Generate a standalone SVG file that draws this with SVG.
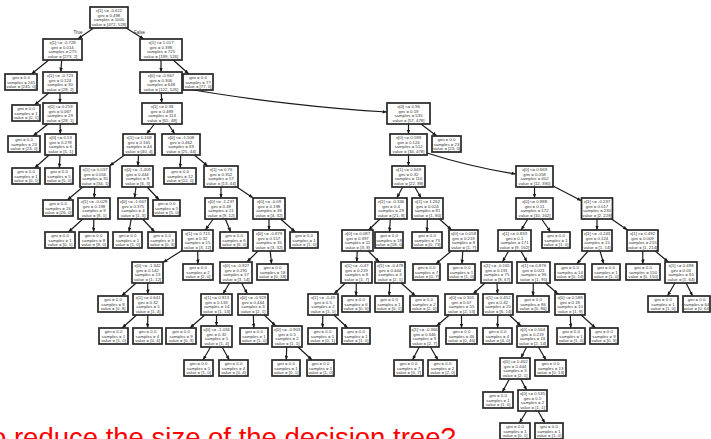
<svg xmlns="http://www.w3.org/2000/svg" width="711" height="439" viewBox="0 0 711 439">
<defs>
<marker id="ah" viewBox="0 0 10 8" refX="10" refY="4" markerWidth="4.5" markerHeight="3.6" markerUnits="userSpaceOnUse" orient="auto">
<path d="M0,0 L10,4 L0,8 z" fill="#1a1a1a"/>
</marker>
<style>
.n rect{fill:#fff;stroke:#262626;stroke-width:1.7}
.n text{font-family:"Liberation Sans",Arial,sans-serif;font-size:4.3px;fill:#333;text-anchor:middle}
.e{fill:none;stroke:#1a1a1a;stroke-width:1.2;marker-end:url(#ah)}
.lbl{font-family:"Liberation Sans",Arial,sans-serif;font-size:4.5px;fill:#333;text-anchor:middle}
.title{font-family:"Liberation Sans",Arial,sans-serif;font-size:27.5px;fill:#f00}
</style>
</defs>
<rect width="711" height="439" fill="#fff"/>

<!-- connectors -->
<g id="edges">
<path class="e" d="M93.7,28 L77.8,39"/>
<path class="e" d="M126.2,28 L143.8,39"/>
<path class="e" d="M48.8,60 L31.4,74"/>
<path class="e" d="M61.7,60 L60.8,72"/>
<path class="e" d="M161,60 L161,72"/>
<path class="e" d="M173.2,60 L188.8,74"/>
<path class="e" d="M48.8,93 L34.5,105"/>
<path class="e" d="M60,93 L60,103"/>
<path class="e" d="M161.3,93 L161.7,103"/>
<path class="e" d="M182,88 C250,100 330,109 387,112"/>
<path class="e" d="M48.1,124 L33,136"/>
<path class="e" d="M60.2,124 L60.3,134"/>
<path class="e" d="M154.4,124 L146.6,134"/>
<path class="e" d="M168.3,124 L174.7,134"/>
<path class="e" d="M408.5,124 L408.5,134"/>
<path class="e" d="M420.9,124 L436.8,136"/>
<path class="e" d="M49.1,155 L34.6,168"/>
<path class="e" d="M60,155 L59.4,168"/>
<path class="e" d="M124.5,155 L109.5,166"/>
<path class="e" d="M138.5,155 L138,166"/>
<path class="e" d="M180.7,155 L180.3,168"/>
<path class="e" d="M194.2,155 L207.8,166"/>
<path class="e" d="M408.5,155 L408.5,166"/>
<path class="e" d="M427,153 C455,162 490,170 516,174"/>
<path class="e" d="M82.8,187 L67.3,200"/>
<path class="e" d="M94.7,187 L94.3,198"/>
<path class="e" d="M136,187 L134.5,198"/>
<path class="e" d="M147.1,187 L159.3,200"/>
<path class="e" d="M221,187 L221,198"/>
<path class="e" d="M236.8,187 L253.2,198"/>
<path class="e" d="M402.7,187 L396.8,198"/>
<path class="e" d="M414.8,187 L421.2,198"/>
<path class="e" d="M534.5,187 L534.5,198"/>
<path class="e" d="M553,186 L581.5,200.8"/>
<path class="e" d="M82.8,219 L68.5,232"/>
<path class="e" d="M93.8,219 L93.6,232"/>
<path class="e" d="M131.2,219 L128.9,232"/>
<path class="e" d="M142.6,219 L154.8,232"/>
<path class="e" d="M213.2,219 L205.3,230"/>
<path class="e" d="M225.3,219 L230.8,232"/>
<path class="e" d="M269,219 L269,230"/>
<path class="e" d="M280.6,219 L295.3,232"/>
<path class="e" d="M380,219 L368.6,230"/>
<path class="e" d="M390.3,219 L389.5,232"/>
<path class="e" d="M427.3,219 L427.1,232"/>
<path class="e" d="M439.4,219 L451.6,230"/>
<path class="e" d="M527.9,219 L521.1,230"/>
<path class="e" d="M541.6,219 L550.6,232"/>
<path class="e" d="M597,219 L597,230"/>
<path class="e" d="M611.5,219 L627.5,230"/>
<path class="e" d="M182,250.4 L163,262.6"/>
<path class="e" d="M197.7,251 L197.9,264"/>
<path class="e" d="M258.1,251 L246.9,262"/>
<path class="e" d="M270.2,251 L271.6,264"/>
<path class="e" d="M357.2,251 L356.8,262"/>
<path class="e" d="M368.2,251 L379.3,262"/>
<path class="e" d="M451.3,251 L435.8,264"/>
<path class="e" d="M462.8,251 L462,264"/>
<path class="e" d="M508.6,251 L502.4,262"/>
<path class="e" d="M520.8,251 L527.2,262"/>
<path class="e" d="M588.1,251 L576.8,264"/>
<path class="e" d="M600,251 L603.8,264"/>
<path class="e" d="M642.7,251 L642.9,264"/>
<path class="e" d="M655.2,251 L668.3,262"/>
<path class="e" d="M136.1,283 L121.6,296"/>
<path class="e" d="M147.7,283 L147.8,294"/>
<path class="e" d="M229.6,283 L222.9,294"/>
<path class="e" d="M241.6,283 L247.4,294"/>
<path class="e" d="M345.4,283 L334,294"/>
<path class="e" d="M356.3,283 L356.1,296"/>
<path class="e" d="M389.7,283 L389.2,296"/>
<path class="e" d="M401.2,283 L415.5,296"/>
<path class="e" d="M485,283 L473,294"/>
<path class="e" d="M497,283 L497.5,294"/>
<path class="e" d="M533.3,283 L533.1,296"/>
<path class="e" d="M545.5,283 L558,294"/>
<path class="e" d="M675,283 L667.5,296"/>
<path class="e" d="M686.1,283 L692.6,296"/>
<path class="e" d="M136.6,315 L122.1,328"/>
<path class="e" d="M147.8,315 L147.6,328"/>
<path class="e" d="M204.8,315 L189.9,328"/>
<path class="e" d="M216.5,315 L216.5,326"/>
<path class="e" d="M253.3,315 L253.8,328"/>
<path class="e" d="M264.2,315 L275.8,326"/>
<path class="e" d="M322.8,315 L322.6,328"/>
<path class="e" d="M333.9,315 L347.8,328"/>
<path class="e" d="M449.3,315 L436.7,326"/>
<path class="e" d="M461.5,315 L461.5,328"/>
<path class="e" d="M497.8,315 L497.6,328"/>
<path class="e" d="M509.4,315 L521.1,326"/>
<path class="e" d="M570.3,315 L570.8,328"/>
<path class="e" d="M581.2,315 L595.5,328"/>
<path class="e" d="M210.6,347 L203,360"/>
<path class="e" d="M222.1,347 L229.3,360"/>
<path class="e" d="M286.7,347 L286.3,360"/>
<path class="e" d="M298,347 L312.1,360"/>
<path class="e" d="M419.2,347 L412.5,360"/>
<path class="e" d="M430.4,347 L438,360"/>
<path class="e" d="M526.7,347 L520.8,358"/>
<path class="e" d="M538.4,347 L546,360"/>
<path class="e" d="M509.4,379 L502.3,392"/>
<path class="e" d="M520.8,379 L526.7,390"/>
<path class="e" d="M526.7,411 L519.4,423"/>
<path class="e" d="M538,411 L544.9,423"/>
<text class="lbl" x="78" y="33.5">True</text>
<text class="lbl" x="139.5" y="33.5">False</text>
</g>

<!-- row 0 -->
<g id="n0" class="n"><rect x="90" y="7" width="38" height="21"/><text y="12.4"><tspan x="109">x[1] &lt;= -0.612</tspan><tspan x="109" dy="4.5">gini = 0.498</tspan><tspan x="109" dy="4.5">samples = 1000</tspan><tspan x="109" dy="4.5">value = [472, 528]</tspan></text></g>
<!-- row 1 -->
<g id="n1" class="n"><rect x="43" y="39" width="39" height="21"/><text y="44.4"><tspan x="62.5">x[1] &lt;= -0.728</tspan><tspan x="62.5" dy="4.5">gini = 0.014</tspan><tspan x="62.5" dy="4.5">samples = 275</tspan><tspan x="62.5" dy="4.5">value = [273, 2]</tspan></text></g>
<g id="n2" class="n"><rect x="140" y="39" width="42" height="21"/><text y="44.4"><tspan x="161">x[1] &lt;= 1.017</tspan><tspan x="161" dy="4.5">gini = 0.398</tspan><tspan x="161" dy="4.5">samples = 725</tspan><tspan x="161" dy="4.5">value = [199, 526]</tspan></text></g>
<!-- row 2 -->
<g id="n3" class="n"><rect x="5" y="74" width="32" height="16"/><text y="79.3"><tspan x="21">gini = 0.0</tspan><tspan x="21" dy="4.5">samples = 245</tspan><tspan x="21" dy="4.5">value = [245, 0]</tspan></text></g>
<g id="n4" class="n"><rect x="43" y="72" width="34" height="21"/><text y="77.4"><tspan x="60">x[1] &lt;= -0.723</tspan><tspan x="60" dy="4.5">gini = 0.124</tspan><tspan x="60" dy="4.5">samples = 30</tspan><tspan x="60" dy="4.5">value = [28, 2]</tspan></text></g>
<g id="n5" class="n"><rect x="140" y="72" width="42" height="21"/><text y="77.4"><tspan x="161">x[0] &lt;= -0.667</tspan><tspan x="161" dy="4.5">gini = 0.306</tspan><tspan x="161" dy="4.5">samples = 648</tspan><tspan x="161" dy="4.5">value = [122, 526]</tspan></text></g>
<g id="n6" class="n"><rect x="183" y="74" width="30" height="16"/><text y="79.3"><tspan x="198">gini = 0.0</tspan><tspan x="198" dy="4.5">samples = 77</tspan><tspan x="198" dy="4.5">value = [77, 0]</tspan></text></g>
<!-- row 3 -->
<g id="n7" class="n"><rect x="12" y="105" width="28" height="16"/><text y="110.3"><tspan x="26">gini = 0.0</tspan><tspan x="26" dy="4.5">samples = 1</tspan><tspan x="26" dy="4.5">value = [0, 1]</tspan></text></g>
<g id="n8" class="n"><rect x="43" y="103" width="34" height="21"/><text y="108.4"><tspan x="60">x[0] &lt;= 0.259</tspan><tspan x="60" dy="4.5">gini = 0.067</tspan><tspan x="60" dy="4.5">samples = 29</tspan><tspan x="60" dy="4.5">value = [28, 1]</tspan></text></g>
<g id="n9" class="n"><rect x="142" y="103" width="40" height="21"/><text y="108.4"><tspan x="162">x[1] &lt;= 0.38</tspan><tspan x="162" dy="4.5">gini = 0.489</tspan><tspan x="162" dy="4.5">samples = 113</tspan><tspan x="162" dy="4.5">value = [65, 48]</tspan></text></g>
<g id="n10" class="n"><rect x="387" y="103" width="43" height="21"/><text y="108.4"><tspan x="408.5">x[0] &lt;= 0.96</tspan><tspan x="408.5" dy="4.5">gini = 0.19</tspan><tspan x="408.5" dy="4.5">samples = 535</tspan><tspan x="408.5" dy="4.5">value = [57, 478]</tspan></text></g>
<!-- row 4 -->
<g id="n11" class="n"><rect x="8" y="136" width="32" height="16"/><text y="141.3"><tspan x="24">gini = 0.0</tspan><tspan x="24" dy="4.5">samples = 23</tspan><tspan x="24" dy="4.5">value = [23, 0]</tspan></text></g>
<g id="n12" class="n"><rect x="45" y="134" width="31" height="21"/><text y="139.4"><tspan x="60.5">x[0] &lt;= 0.53</tspan><tspan x="60.5" dy="4.5">gini = 0.278</tspan><tspan x="60.5" dy="4.5">samples = 6</tspan><tspan x="60.5" dy="4.5">value = [5, 1]</tspan></text></g>
<g id="n13" class="n"><rect x="123" y="134" width="32" height="21"/><text y="139.4"><tspan x="139">x[1] &lt;= 0.168</tspan><tspan x="139" dy="4.5">gini = 0.165</tspan><tspan x="139" dy="4.5">samples = 44</tspan><tspan x="139" dy="4.5">value = [40, 4]</tspan></text></g>
<g id="n14" class="n"><rect x="162" y="134" width="38" height="21"/><text y="139.4"><tspan x="181">x[0] &lt;= -1.508</tspan><tspan x="181" dy="4.5">gini = 0.462</tspan><tspan x="181" dy="4.5">samples = 69</tspan><tspan x="181" dy="4.5">value = [25, 44]</tspan></text></g>
<g id="n15" class="n"><rect x="390" y="134" width="37" height="21"/><text y="139.4"><tspan x="408.5">x[0] &lt;= 0.189</tspan><tspan x="408.5" dy="4.5">gini = 0.124</tspan><tspan x="408.5" dy="4.5">samples = 512</tspan><tspan x="408.5" dy="4.5">value = [34, 478]</tspan></text></g>
<g id="n16" class="n"><rect x="432" y="136" width="29" height="16"/><text y="141.3"><tspan x="446.5">gini = 0.0</tspan><tspan x="446.5" dy="4.5">samples = 23</tspan><tspan x="446.5" dy="4.5">value = [23, 0]</tspan></text></g>
<!-- row 5 -->
<g id="n17" class="n"><rect x="12" y="168" width="28" height="16"/><text y="173.3"><tspan x="26">gini = 0.0</tspan><tspan x="26" dy="4.5">samples = 1</tspan><tspan x="26" dy="4.5">value = [0, 1]</tspan></text></g>
<g id="n18" class="n"><rect x="45" y="168" width="28" height="16"/><text y="173.3"><tspan x="59">gini = 0.0</tspan><tspan x="59" dy="4.5">samples = 5</tspan><tspan x="59" dy="4.5">value = [5, 0]</tspan></text></g>
<g id="n19" class="n"><rect x="80" y="166" width="30" height="21"/><text y="171.4"><tspan x="95">x[1] &lt;= 0.037</tspan><tspan x="95" dy="4.5">gini = 0.056</tspan><tspan x="95" dy="4.5">samples = 35</tspan><tspan x="95" dy="4.5">value = [34, 1]</tspan></text></g>
<g id="n20" class="n"><rect x="122" y="166" width="31" height="21"/><text y="171.4"><tspan x="137.5">x[0] &lt;= -1.409</tspan><tspan x="137.5" dy="4.5">gini = 0.444</tspan><tspan x="137.5" dy="4.5">samples = 9</tspan><tspan x="137.5" dy="4.5">value = [6, 3]</tspan></text></g>
<g id="n21" class="n"><rect x="164" y="168" width="32" height="16"/><text y="173.3"><tspan x="180">gini = 0.0</tspan><tspan x="180" dy="4.5">samples = 12</tspan><tspan x="180" dy="4.5">value = [12, 0]</tspan></text></g>
<g id="n22" class="n"><rect x="204" y="166" width="34" height="21"/><text y="171.4"><tspan x="221">x[1] &lt;= 0.76</tspan><tspan x="221" dy="4.5">gini = 0.352</tspan><tspan x="221" dy="4.5">samples = 57</tspan><tspan x="221" dy="4.5">value = [13, 44]</tspan></text></g>
<g id="n23" class="n"><rect x="392" y="166" width="33" height="21"/><text y="171.4"><tspan x="408.5">x[1] &lt;= 0.669</tspan><tspan x="408.5" dy="4.5">gini = 0.32</tspan><tspan x="408.5" dy="4.5">samples = 110</tspan><tspan x="408.5" dy="4.5">value = [22, 88]</tspan></text></g>
<g id="n24" class="n"><rect x="516" y="166" width="37" height="21"/><text y="171.4"><tspan x="534.5">x[0] &lt;= 0.669</tspan><tspan x="534.5" dy="4.5">gini = 0.058</tspan><tspan x="534.5" dy="4.5">samples = 402</tspan><tspan x="534.5" dy="4.5">value = [12, 390]</tspan></text></g>
<!-- row 6 -->
<g id="n25" class="n"><rect x="43" y="200" width="30" height="16"/><text y="205.3"><tspan x="58">gini = 0.0</tspan><tspan x="58" dy="4.5">samples = 26</tspan><tspan x="58" dy="4.5">value = [26, 0]</tspan></text></g>
<g id="n26" class="n"><rect x="78" y="198" width="32" height="21"/><text y="203.4"><tspan x="94">x[1] &lt;= -0.029</tspan><tspan x="94" dy="4.5">gini = 0.198</tspan><tspan x="94" dy="4.5">samples = 9</tspan><tspan x="94" dy="4.5">value = [8, 1]</tspan></text></g>
<g id="n27" class="n"><rect x="118" y="198" width="30" height="21"/><text y="203.4"><tspan x="133">x[0] &lt;= -1.667</tspan><tspan x="133" dy="4.5">gini = 0.375</tspan><tspan x="133" dy="4.5">samples = 4</tspan><tspan x="133" dy="4.5">value = [1, 3]</tspan></text></g>
<g id="n28" class="n"><rect x="153" y="200" width="27" height="16"/><text y="205.3"><tspan x="166.5">gini = 0.0</tspan><tspan x="166.5" dy="4.5">samples = 5</tspan><tspan x="166.5" dy="4.5">value = [5, 0]</tspan></text></g>
<g id="n29" class="n"><rect x="205" y="198" width="32" height="21"/><text y="203.4"><tspan x="221">x[0] &lt;= -1.237</tspan><tspan x="221" dy="4.5">gini = 0.49</tspan><tspan x="221" dy="4.5">samples = 21</tspan><tspan x="221" dy="4.5">value = [9, 12]</tspan></text></g>
<g id="n30" class="n"><rect x="253" y="198" width="32" height="21"/><text y="203.4"><tspan x="269">x[0] &lt;= -0.09</tspan><tspan x="269" dy="4.5">gini = 0.198</tspan><tspan x="269" dy="4.5">samples = 36</tspan><tspan x="269" dy="4.5">value = [4, 32]</tspan></text></g>
<g id="n31" class="n"><rect x="375" y="198" width="32" height="21"/><text y="203.4"><tspan x="391">x[1] &lt;= -0.336</tspan><tspan x="391" dy="4.5">gini = 0.4</tspan><tspan x="391" dy="4.5">samples = 29</tspan><tspan x="391" dy="4.5">value = [21, 8]</tspan></text></g>
<g id="n32" class="n"><rect x="412" y="198" width="31" height="21"/><text y="203.4"><tspan x="427.5">x[1] &lt;= 1.262</tspan><tspan x="427.5" dy="4.5">gini = 0.024</tspan><tspan x="427.5" dy="4.5">samples = 81</tspan><tspan x="427.5" dy="4.5">value = [1, 80]</tspan></text></g>
<g id="n33" class="n"><rect x="516" y="198" width="37" height="21"/><text y="203.4"><tspan x="534.5">x[0] &lt;= 0.888</tspan><tspan x="534.5" dy="4.5">gini = 0.11</tspan><tspan x="534.5" dy="4.5">samples = 172</tspan><tspan x="534.5" dy="4.5">value = [10, 162]</tspan></text></g>
<g id="n34" class="n"><rect x="581.5" y="198" width="31" height="21"/><text y="203.4"><tspan x="597">x[1] &lt;= -0.237</tspan><tspan x="597" dy="4.5">gini = 0.017</tspan><tspan x="597" dy="4.5">samples = 230</tspan><tspan x="597" dy="4.5">value = [2, 228]</tspan></text></g>
<!-- row 7 -->
<g id="n35" class="n"><rect x="45" y="232" width="30" height="16"/><text y="237.3"><tspan x="60">gini = 0.0</tspan><tspan x="60" dy="4.5">samples = 1</tspan><tspan x="60" dy="4.5">value = [0, 1]</tspan></text></g>
<g id="n36" class="n"><rect x="79" y="232" width="29" height="16"/><text y="237.3"><tspan x="93.5">gini = 0.0</tspan><tspan x="93.5" dy="4.5">samples = 8</tspan><tspan x="93.5" dy="4.5">value = [8, 0]</tspan></text></g>
<g id="n37" class="n"><rect x="113" y="232" width="29" height="16"/><text y="237.3"><tspan x="127.5">gini = 0.0</tspan><tspan x="127.5" dy="4.5">samples = 1</tspan><tspan x="127.5" dy="4.5">value = [1, 0]</tspan></text></g>
<g id="n38" class="n"><rect x="148" y="232" width="28" height="16"/><text y="237.3"><tspan x="162">gini = 0.0</tspan><tspan x="162" dy="4.5">samples = 3</tspan><tspan x="162" dy="4.5">value = [0, 3]</tspan></text></g>
<g id="n39" class="n"><rect x="182" y="230" width="31" height="21"/><text y="235.4"><tspan x="197.5">x[1] &lt;= 0.715</tspan><tspan x="197.5" dy="4.5">gini = 0.32</tspan><tspan x="197.5" dy="4.5">samples = 15</tspan><tspan x="197.5" dy="4.5">value = [3, 12]</tspan></text></g>
<g id="n40" class="n"><rect x="220" y="232" width="28" height="16"/><text y="237.3"><tspan x="234">gini = 0.0</tspan><tspan x="234" dy="4.5">samples = 6</tspan><tspan x="234" dy="4.5">value = [6, 0]</tspan></text></g>
<g id="n41" class="n"><rect x="253" y="230" width="32" height="21"/><text y="235.4"><tspan x="269">x[0] &lt;= -0.879</tspan><tspan x="269" dy="4.5">gini = 0.157</tspan><tspan x="269" dy="4.5">samples = 35</tspan><tspan x="269" dy="4.5">value = [3, 32]</tspan></text></g>
<g id="n42" class="n"><rect x="290" y="232" width="28" height="16"/><text y="237.3"><tspan x="304">gini = 0.0</tspan><tspan x="304" dy="4.5">samples = 1</tspan><tspan x="304" dy="4.5">value = [1, 0]</tspan></text></g>
<g id="n43" class="n"><rect x="342" y="230" width="31" height="21"/><text y="235.4"><tspan x="357.5">x[0] &lt;= 0.087</tspan><tspan x="357.5" dy="4.5">gini = 0.397</tspan><tspan x="357.5" dy="4.5">samples = 11</tspan><tspan x="357.5" dy="4.5">value = [3, 8]</tspan></text></g>
<g id="n44" class="n"><rect x="375" y="232" width="28" height="16"/><text y="237.3"><tspan x="389">gini = 0.0</tspan><tspan x="389" dy="4.5">samples = 18</tspan><tspan x="389" dy="4.5">value = [18, 0]</tspan></text></g>
<g id="n45" class="n"><rect x="412" y="232" width="30" height="16"/><text y="237.3"><tspan x="427">gini = 0.0</tspan><tspan x="427" dy="4.5">samples = 73</tspan><tspan x="427" dy="4.5">value = [0, 73]</tspan></text></g>
<g id="n46" class="n"><rect x="449" y="230" width="29" height="21"/><text y="235.4"><tspan x="463.5">x[0] &lt;= 0.058</tspan><tspan x="463.5" dy="4.5">gini = 0.219</tspan><tspan x="463.5" dy="4.5">samples = 8</tspan><tspan x="463.5" dy="4.5">value = [1, 7]</tspan></text></g>
<g id="n47" class="n"><rect x="498" y="230" width="33" height="21"/><text y="235.4"><tspan x="514.5">x[1] &lt;= 0.833</tspan><tspan x="514.5" dy="4.5">gini = 0.1</tspan><tspan x="514.5" dy="4.5">samples = 171</tspan><tspan x="514.5" dy="4.5">value = [9, 162]</tspan></text></g>
<g id="n48" class="n"><rect x="542" y="232" width="28" height="16"/><text y="237.3"><tspan x="556">gini = 0.0</tspan><tspan x="556" dy="4.5">samples = 1</tspan><tspan x="556" dy="4.5">value = [1, 0]</tspan></text></g>
<g id="n49" class="n"><rect x="582" y="230" width="30" height="21"/><text y="235.4"><tspan x="597">x[1] &lt;= -0.243</tspan><tspan x="597" dy="4.5">gini = 0.124</tspan><tspan x="597" dy="4.5">samples = 15</tspan><tspan x="597" dy="4.5">value = [1, 14]</tspan></text></g>
<g id="n50" class="n"><rect x="627" y="230" width="31" height="21"/><text y="235.4"><tspan x="642.5">x[1] &lt;= 0.492</tspan><tspan x="642.5" dy="4.5">gini = 0.009</tspan><tspan x="642.5" dy="4.5">samples = 215</tspan><tspan x="642.5" dy="4.5">value = [1, 214]</tspan></text></g>
<!-- row 8 -->
<g id="n51" class="n"><rect x="132" y="262" width="31" height="21"/><text y="267.4"><tspan x="147.5">x[0] &lt;= -1.342</tspan><tspan x="147.5" dy="4.5">gini = 0.142</tspan><tspan x="147.5" dy="4.5">samples = 13</tspan><tspan x="147.5" dy="4.5">value = [1, 12]</tspan></text></g>
<g id="n52" class="n"><rect x="183" y="264" width="30" height="16"/><text y="269.3"><tspan x="198">gini = 0.0</tspan><tspan x="198" dy="4.5">samples = 2</tspan><tspan x="198" dy="4.5">value = [2, 0]</tspan></text></g>
<g id="n53" class="n"><rect x="220" y="262" width="32" height="21"/><text y="267.4"><tspan x="236">x[0] &lt;= -0.927</tspan><tspan x="236" dy="4.5">gini = 0.291</tspan><tspan x="236" dy="4.5">samples = 17</tspan><tspan x="236" dy="4.5">value = [3, 14]</tspan></text></g>
<g id="n54" class="n"><rect x="257" y="264" width="31" height="16"/><text y="269.3"><tspan x="272.5">gini = 0.0</tspan><tspan x="272.5" dy="4.5">samples = 18</tspan><tspan x="272.5" dy="4.5">value = [0, 18]</tspan></text></g>
<g id="n55" class="n"><rect x="341" y="262" width="31" height="21"/><text y="267.4"><tspan x="356.5">x[1] &lt;= -0.47</tspan><tspan x="356.5" dy="4.5">gini = 0.219</tspan><tspan x="356.5" dy="4.5">samples = 8</tspan><tspan x="356.5" dy="4.5">value = [1, 7]</tspan></text></g>
<g id="n56" class="n"><rect x="375" y="262" width="30" height="21"/><text y="267.4"><tspan x="390">x[1] &lt;= -0.478</tspan><tspan x="390" dy="4.5">gini = 0.444</tspan><tspan x="390" dy="4.5">samples = 3</tspan><tspan x="390" dy="4.5">value = [2, 1]</tspan></text></g>
<g id="n57" class="n"><rect x="413" y="264" width="27" height="16"/><text y="269.3"><tspan x="426.5">gini = 0.0</tspan><tspan x="426.5" dy="4.5">samples = 7</tspan><tspan x="426.5" dy="4.5">value = [0, 7]</tspan></text></g>
<g id="n58" class="n"><rect x="448" y="264" width="27" height="16"/><text y="269.3"><tspan x="461.5">gini = 0.0</tspan><tspan x="461.5" dy="4.5">samples = 1</tspan><tspan x="461.5" dy="4.5">value = [1, 0]</tspan></text></g>
<g id="n59" class="n"><rect x="481" y="262" width="31" height="21"/><text y="267.4"><tspan x="496.5">x[1] &lt;= -0.165</tspan><tspan x="496.5" dy="4.5">gini = 0.191</tspan><tspan x="496.5" dy="4.5">samples = 75</tspan><tspan x="496.5" dy="4.5">value = [8, 67]</tspan></text></g>
<g id="n60" class="n"><rect x="517" y="262" width="33" height="21"/><text y="267.4"><tspan x="533.5">x[1] &lt;= 0.876</tspan><tspan x="533.5" dy="4.5">gini = 0.021</tspan><tspan x="533.5" dy="4.5">samples = 96</tspan><tspan x="533.5" dy="4.5">value = [1, 95]</tspan></text></g>
<g id="n61" class="n"><rect x="555" y="264" width="30" height="16"/><text y="269.3"><tspan x="570">gini = 0.0</tspan><tspan x="570" dy="4.5">samples = 14</tspan><tspan x="570" dy="4.5">value = [0, 14]</tspan></text></g>
<g id="n62" class="n"><rect x="592" y="264" width="28" height="16"/><text y="269.3"><tspan x="606">gini = 0.0</tspan><tspan x="606" dy="4.5">samples = 1</tspan><tspan x="606" dy="4.5">value = [1, 0]</tspan></text></g>
<g id="n63" class="n"><rect x="626" y="264" width="34" height="16"/><text y="269.3"><tspan x="643">gini = 0.0</tspan><tspan x="643" dy="4.5">samples = 150</tspan><tspan x="643" dy="4.5">value = [0, 150]</tspan></text></g>
<g id="n64" class="n"><rect x="665" y="262" width="32" height="21"/><text y="267.4"><tspan x="681">x[1] &lt;= 0.498</tspan><tspan x="681" dy="4.5">gini = 0.03</tspan><tspan x="681" dy="4.5">samples = 65</tspan><tspan x="681" dy="4.5">value = [1, 64]</tspan></text></g>
<!-- row 9 -->
<g id="n65" class="n"><rect x="98" y="296" width="30" height="16"/><text y="301.3"><tspan x="113">gini = 0.0</tspan><tspan x="113" dy="4.5">samples = 8</tspan><tspan x="113" dy="4.5">value = [0, 8]</tspan></text></g>
<g id="n66" class="n"><rect x="133" y="294" width="30" height="21"/><text y="299.4"><tspan x="148">x[1] &lt;= 0.641</tspan><tspan x="148" dy="4.5">gini = 0.32</tspan><tspan x="148" dy="4.5">samples = 5</tspan><tspan x="148" dy="4.5">value = [1, 4]</tspan></text></g>
<g id="n67" class="n"><rect x="201" y="294" width="31" height="21"/><text y="299.4"><tspan x="216.5">x[1] &lt;= 0.913</tspan><tspan x="216.5" dy="4.5">gini = 0.133</tspan><tspan x="216.5" dy="4.5">samples = 14</tspan><tspan x="216.5" dy="4.5">value = [1, 13]</tspan></text></g>
<g id="n68" class="n"><rect x="238" y="294" width="30" height="21"/><text y="299.4"><tspan x="253">x[0] &lt;= -0.929</tspan><tspan x="253" dy="4.5">gini = 0.444</tspan><tspan x="253" dy="4.5">samples = 3</tspan><tspan x="253" dy="4.5">value = [2, 1]</tspan></text></g>
<g id="n69" class="n"><rect x="308" y="294" width="30" height="21"/><text y="299.4"><tspan x="323">x[1] &lt;= -0.49</tspan><tspan x="323" dy="4.5">gini = 0.5</tspan><tspan x="323" dy="4.5">samples = 2</tspan><tspan x="323" dy="4.5">value = [1, 1]</tspan></text></g>
<g id="n70" class="n"><rect x="342" y="296" width="28" height="16"/><text y="301.3"><tspan x="356">gini = 0.0</tspan><tspan x="356" dy="4.5">samples = 6</tspan><tspan x="356" dy="4.5">value = [0, 6]</tspan></text></g>
<g id="n71" class="n"><rect x="375" y="296" width="28" height="16"/><text y="301.3"><tspan x="389">gini = 0.0</tspan><tspan x="389" dy="4.5">samples = 1</tspan><tspan x="389" dy="4.5">value = [0, 1]</tspan></text></g>
<g id="n72" class="n"><rect x="410" y="296" width="28" height="16"/><text y="301.3"><tspan x="424">gini = 0.0</tspan><tspan x="424" dy="4.5">samples = 2</tspan><tspan x="424" dy="4.5">value = [2, 0]</tspan></text></g>
<g id="n73" class="n"><rect x="445" y="294" width="33" height="21"/><text y="299.4"><tspan x="461.5">x[0] &lt;= 0.305</tspan><tspan x="461.5" dy="4.5">gini = 0.07</tspan><tspan x="461.5" dy="4.5">samples = 55</tspan><tspan x="461.5" dy="4.5">value = [2, 53]</tspan></text></g>
<g id="n74" class="n"><rect x="483" y="294" width="30" height="21"/><text y="299.4"><tspan x="498">x[1] &lt;= 0.452</tspan><tspan x="498" dy="4.5">gini = 0.42</tspan><tspan x="498" dy="4.5">samples = 20</tspan><tspan x="498" dy="4.5">value = [6, 14]</tspan></text></g>
<g id="n75" class="n"><rect x="517" y="296" width="32" height="16"/><text y="301.3"><tspan x="533">gini = 0.0</tspan><tspan x="533" dy="4.5">samples = 86</tspan><tspan x="533" dy="4.5">value = [0, 86]</tspan></text></g>
<g id="n76" class="n"><rect x="555" y="294" width="30" height="21"/><text y="299.4"><tspan x="570">x[0] &lt;= 0.588</tspan><tspan x="570" dy="4.5">gini = 0.18</tspan><tspan x="570" dy="4.5">samples = 10</tspan><tspan x="570" dy="4.5">value = [1, 9]</tspan></text></g>
<g id="n77" class="n"><rect x="648" y="296" width="30" height="16"/><text y="301.3"><tspan x="663">gini = 0.0</tspan><tspan x="663" dy="4.5">samples = 1</tspan><tspan x="663" dy="4.5">value = [1, 0]</tspan></text></g>
<g id="n78" class="n"><rect x="683" y="296" width="27" height="16"/><text y="301.3"><tspan x="696.5">gini = 0.0</tspan><tspan x="696.5" dy="4.5">samples = 64</tspan><tspan x="696.5" dy="4.5">value = [0, 64]</tspan></text></g>
<!-- row 10 -->
<g id="n79" class="n"><rect x="99" y="328" width="29" height="16"/><text y="333.3"><tspan x="113.5">gini = 0.0</tspan><tspan x="113.5" dy="4.5">samples = 1</tspan><tspan x="113.5" dy="4.5">value = [1, 0]</tspan></text></g>
<g id="n80" class="n"><rect x="133" y="328" width="29" height="16"/><text y="333.3"><tspan x="147.5">gini = 0.0</tspan><tspan x="147.5" dy="4.5">samples = 4</tspan><tspan x="147.5" dy="4.5">value = [0, 4]</tspan></text></g>
<g id="n81" class="n"><rect x="166" y="328" width="30" height="16"/><text y="333.3"><tspan x="181">gini = 0.0</tspan><tspan x="181" dy="4.5">samples = 9</tspan><tspan x="181" dy="4.5">value = [0, 9]</tspan></text></g>
<g id="n82" class="n"><rect x="201" y="326" width="31" height="21"/><text y="331.4"><tspan x="216.5">x[0] &lt;= -1.034</tspan><tspan x="216.5" dy="4.5">gini = 0.32</tspan><tspan x="216.5" dy="4.5">samples = 5</tspan><tspan x="216.5" dy="4.5">value = [1, 4]</tspan></text></g>
<g id="n83" class="n"><rect x="240" y="328" width="28" height="16"/><text y="333.3"><tspan x="254">gini = 0.0</tspan><tspan x="254" dy="4.5">samples = 1</tspan><tspan x="254" dy="4.5">value = [1, 0]</tspan></text></g>
<g id="n84" class="n"><rect x="272" y="326" width="30" height="21"/><text y="331.4"><tspan x="287">x[0] &lt;= -0.903</tspan><tspan x="287" dy="4.5">gini = 0.5</tspan><tspan x="287" dy="4.5">samples = 2</tspan><tspan x="287" dy="4.5">value = [1, 1]</tspan></text></g>
<g id="n85" class="n"><rect x="308" y="328" width="29" height="16"/><text y="333.3"><tspan x="322.5">gini = 0.0</tspan><tspan x="322.5" dy="4.5">samples = 1</tspan><tspan x="322.5" dy="4.5">value = [0, 1]</tspan></text></g>
<g id="n86" class="n"><rect x="342" y="328" width="28" height="16"/><text y="333.3"><tspan x="356">gini = 0.0</tspan><tspan x="356" dy="4.5">samples = 1</tspan><tspan x="356" dy="4.5">value = [1, 0]</tspan></text></g>
<g id="n87" class="n"><rect x="410" y="326" width="29" height="21"/><text y="331.4"><tspan x="424.5">x[1] &lt;= -0.366</tspan><tspan x="424.5" dy="4.5">gini = 0.346</tspan><tspan x="424.5" dy="4.5">samples = 9</tspan><tspan x="424.5" dy="4.5">value = [2, 7]</tspan></text></g>
<g id="n88" class="n"><rect x="446" y="328" width="31" height="16"/><text y="333.3"><tspan x="461.5">gini = 0.0</tspan><tspan x="461.5" dy="4.5">samples = 46</tspan><tspan x="461.5" dy="4.5">value = [0, 46]</tspan></text></g>
<g id="n89" class="n"><rect x="483" y="328" width="29" height="16"/><text y="333.3"><tspan x="497.5">gini = 0.0</tspan><tspan x="497.5" dy="4.5">samples = 4</tspan><tspan x="497.5" dy="4.5">value = [4, 0]</tspan></text></g>
<g id="n90" class="n"><rect x="517" y="326" width="31" height="21"/><text y="331.4"><tspan x="532.5">x[0] &lt;= 0.564</tspan><tspan x="532.5" dy="4.5">gini = 0.219</tspan><tspan x="532.5" dy="4.5">samples = 16</tspan><tspan x="532.5" dy="4.5">value = [2, 14]</tspan></text></g>
<g id="n91" class="n"><rect x="557" y="328" width="28" height="16"/><text y="333.3"><tspan x="571">gini = 0.0</tspan><tspan x="571" dy="4.5">samples = 1</tspan><tspan x="571" dy="4.5">value = [1, 0]</tspan></text></g>
<g id="n92" class="n"><rect x="590" y="328" width="28" height="16"/><text y="333.3"><tspan x="604">gini = 0.0</tspan><tspan x="604" dy="4.5">samples = 9</tspan><tspan x="604" dy="4.5">value = [0, 9]</tspan></text></g>
<!-- row 11 -->
<g id="n93" class="n"><rect x="184" y="360" width="29" height="16"/><text y="365.3"><tspan x="198.5">gini = 0.0</tspan><tspan x="198.5" dy="4.5">samples = 1</tspan><tspan x="198.5" dy="4.5">value = [1, 0]</tspan></text></g>
<g id="n94" class="n"><rect x="219" y="360" width="29" height="16"/><text y="365.3"><tspan x="233.5">gini = 0.0</tspan><tspan x="233.5" dy="4.5">samples = 4</tspan><tspan x="233.5" dy="4.5">value = [0, 4]</tspan></text></g>
<g id="n95" class="n"><rect x="272" y="360" width="28" height="16"/><text y="365.3"><tspan x="286">gini = 0.0</tspan><tspan x="286" dy="4.5">samples = 1</tspan><tspan x="286" dy="4.5">value = [0, 1]</tspan></text></g>
<g id="n96" class="n"><rect x="307" y="360" width="27" height="16"/><text y="365.3"><tspan x="320.5">gini = 0.0</tspan><tspan x="320.5" dy="4.5">samples = 1</tspan><tspan x="320.5" dy="4.5">value = [1, 0]</tspan></text></g>
<g id="n97" class="n"><rect x="394" y="360" width="29" height="16"/><text y="365.3"><tspan x="408.5">gini = 0.0</tspan><tspan x="408.5" dy="4.5">samples = 7</tspan><tspan x="408.5" dy="4.5">value = [0, 7]</tspan></text></g>
<g id="n98" class="n"><rect x="428" y="360" width="29" height="16"/><text y="365.3"><tspan x="442.5">gini = 0.0</tspan><tspan x="442.5" dy="4.5">samples = 2</tspan><tspan x="442.5" dy="4.5">value = [2, 0]</tspan></text></g>
<g id="n99" class="n"><rect x="500" y="358" width="30" height="21"/><text y="363.4"><tspan x="515">x[0] &lt;= 0.462</tspan><tspan x="515" dy="4.5">gini = 0.444</tspan><tspan x="515" dy="4.5">samples = 3</tspan><tspan x="515" dy="4.5">value = [2, 1]</tspan></text></g>
<g id="n100" class="n"><rect x="535" y="360" width="31" height="16"/><text y="365.3"><tspan x="550.5">gini = 0.0</tspan><tspan x="550.5" dy="4.5">samples = 13</tspan><tspan x="550.5" dy="4.5">value = [0, 13]</tspan></text></g>
<!-- row 12 -->
<g id="n101" class="n"><rect x="483" y="392" width="30" height="16"/><text y="397.3"><tspan x="498">gini = 0.0</tspan><tspan x="498" dy="4.5">samples = 1</tspan><tspan x="498" dy="4.5">value = [1, 0]</tspan></text></g>
<g id="n102" class="n"><rect x="518" y="390" width="29" height="21"/><text y="395.4"><tspan x="532.5">x[0] &lt;= 0.535</tspan><tspan x="532.5" dy="4.5">gini = 0.5</tspan><tspan x="532.5" dy="4.5">samples = 2</tspan><tspan x="532.5" dy="4.5">value = [1, 1]</tspan></text></g>
<!-- row 13 -->
<g id="n103" class="n"><rect x="500" y="423" width="30" height="16"/><text y="428.3"><tspan x="515">gini = 0.0</tspan><tspan x="515" dy="4.5">samples = 1</tspan><tspan x="515" dy="4.5">value = [0, 1]</tspan></text></g>
<g id="n104" class="n"><rect x="535" y="423" width="28" height="16"/><text y="428.3"><tspan x="549">gini = 0.0</tspan><tspan x="549" dy="4.5">samples = 1</tspan><tspan x="549" dy="4.5">value = [1, 0]</tspan></text></g>

<!-- slide caption, clipped by the bottom edge -->
<text class="title" x="-9" y="446.5">o reduce the size of the decision tree?</text>
</svg>
